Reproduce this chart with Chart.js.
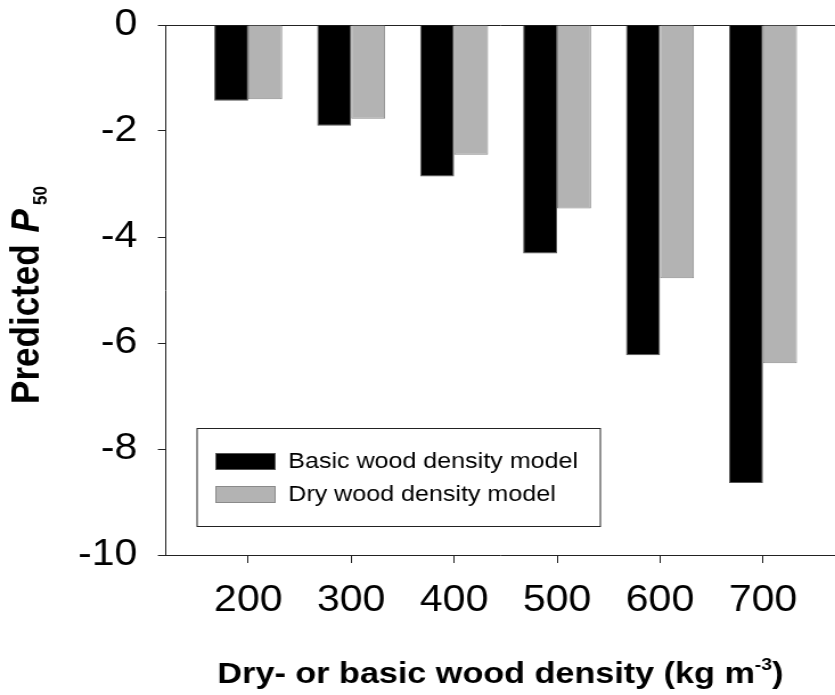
<!DOCTYPE html>
<html>
<head>
<meta charset="utf-8">
<script src="https://cdn.jsdelivr.net/npm/chart.js@4/dist/chart.umd.min.js"></script>
<style>
  html, body { margin: 0; padding: 0; background: #fff; overflow: hidden; }
  /* the reference is stretched a little wider than it is tall */
  #wrap { width: 733px; height: 695px; transform: scaleX(1.1392); transform-origin: 0 0; }
</style>
</head>
<body>
<div id="wrap"><canvas id="chart" width="733" height="695"></canvas></div>
<script>
/* Predicted P50 vs wood density — two model series */

var DENSITY = [200, 300, 400, 500, 600, 700];
var BASIC_P50 = [-1.43, -1.90, -2.86, -4.31, -6.23, -8.64];
var DRY_P50 = [-1.40, -1.77, -2.45, -3.46, -4.78, -6.38];
var SERIES_LABELS = ['Basic wood density model', 'Dry wood density model'];
var Y_TICKS = [0, -2, -4, -6, -8, -10];

var FONT = "'Liberation Sans', Arial, sans-serif";
var AXIS = '#222';

Chart.defaults.font.family = FONT;
Chart.defaults.color = '#000';

function points(ys) {
  return DENSITY.map(function(x, i) { return { x: x, y: ys[i] }; });
}

/* axis titles with italic P and sub/superscripts */
var titlesPlugin = {
  id: 'titles',
  afterDraw: function(chart) {
    var ctx = chart.ctx, a = chart.chartArea;
    ctx.save();
    ctx.fillStyle = '#000';
    ctx.textBaseline = 'alphabetic';
    ctx.textAlign = 'left';

    // y title, rotated
    var fMain = 'bold 35px ' + FONT, fIt = 'italic bold 35px ' + FONT, fSub = 'bold 17px ' + FONT;
    ctx.font = fMain; var w1 = ctx.measureText('Predicted').width;
    ctx.font = fIt; var w2 = ctx.measureText('P').width;
    ctx.font = fSub; var w3 = ctx.measureText('50').width;
    var gap1 = 12, gap2 = 4;
    var total = w1 + gap1 + w2 + gap2 + w3;
    ctx.translate(34, 295);
    ctx.rotate(-Math.PI / 2);
    var x = -total / 2;
    ctx.font = fMain; ctx.fillText('Predicted', x, 0); x += w1 + gap1;
    ctx.font = fIt; ctx.fillText('P', x, 0); x += w2 + gap2;
    ctx.font = fSub; ctx.fillText('50', x, 7);
    ctx.setTransform(1, 0, 0, 1, 0, 0);

    // x title
    var fX = 'bold 30px ' + FONT, fSup = 'bold 17px ' + FONT;
    ctx.font = fX; var a1 = ctx.measureText('Dry- or basic wood density (kg m').width;
    var a3 = ctx.measureText(')').width;
    ctx.font = fSup; var a2 = ctx.measureText('-3').width;
    var cx = (a.left + a.right) / 2, tx = cx - (a1 + a2 + a3) / 2, by = 683;
    ctx.font = fX; ctx.fillText('Dry- or basic wood density (kg m', tx, by); tx += a1;
    ctx.font = fSup; ctx.fillText('-3', tx, by - 13); tx += a2;
    ctx.font = fX; ctx.fillText(')', tx, by);
    ctx.restore();
  }
};

/* boxed legend inside the plot, lower left */
var legendBoxPlugin = {
  id: 'legendBox',
  afterDraw: function(chart) {
    var ctx = chart.ctx;
    ctx.save();
    ctx.lineWidth = 1;
    ctx.strokeStyle = AXIS;
    ctx.strokeRect(173, 428.5, 354, 98);
    ctx.font = '22px ' + FONT;
    ctx.textBaseline = 'middle';
    ctx.textAlign = 'left';
    chart.data.datasets.forEach(function(ds, i) {
      var y = 453 + i * 33;
      ctx.fillStyle = ds.backgroundColor;
      ctx.fillRect(189.5, y, 52, 17);
      ctx.strokeStyle = ds.borderColor;
      ctx.strokeRect(189.5, y + 0.5, 52, 16);
      ctx.fillStyle = '#000';
      ctx.fillText(ds.label, 253, y + 9);
    });
    ctx.restore();
  }
};

new Chart(document.getElementById('chart'), {
  type: 'bar',
  data: {
    datasets: [
      { label: SERIES_LABELS[0], data: points(BASIC_P50), backgroundColor: '#000', borderColor: '#555', borderWidth: 1 },
      { label: SERIES_LABELS[1], data: points(DRY_P50), backgroundColor: '#b3b3b3', borderColor: '#8a8a8a', borderWidth: 1 }
    ]
  },
  options: {
    responsive: false, animation: false,
    layout: { padding: { top: 25, right: 0, bottom: 0, left: 0 } },
    categoryPercentage: 0.66, barPercentage: 1.0,
    plugins: { legend: { display: false }, tooltip: { enabled: false } },
    scales: {
      x: {
        type: 'linear', min: 120, max: 770, offset: false,
        afterFit: function(s) { s.height = 140; s.paddingLeft = 0; s.paddingRight = 0; },
        border: { display: true, color: AXIS, width: 1 },
        grid: { drawOnChartArea: false, drawTicks: true, tickLength: 8, tickColor: AXIS, offset: false },
        ticks: { stepSize: 100, includeBounds: false, padding: 16, font: { size: 36 }, color: '#000' }
      },
      y: {
        min: -10, max: 0,
        afterFit: function(s) { s.width = 145.6; s.paddingTop = 0; s.paddingBottom = 0; },
        afterBuildTicks: function(s) { s.ticks = Y_TICKS.map(function(v) { return { value: v }; }); },
        border: { display: true, color: AXIS, width: 1 },
        grid: {
          drawOnChartArea: true, drawTicks: true, tickLength: 7, tickColor: AXIS,
          color: function(c) { return c.tick && c.tick.value === 0 ? AXIS : 'rgba(0,0,0,0)'; }
        },
        ticks: { padding: 18, font: { size: 36 }, color: '#000' }
      }
    }
  },
  plugins: [titlesPlugin, legendBoxPlugin]
});
</script>
</body>
</html>
